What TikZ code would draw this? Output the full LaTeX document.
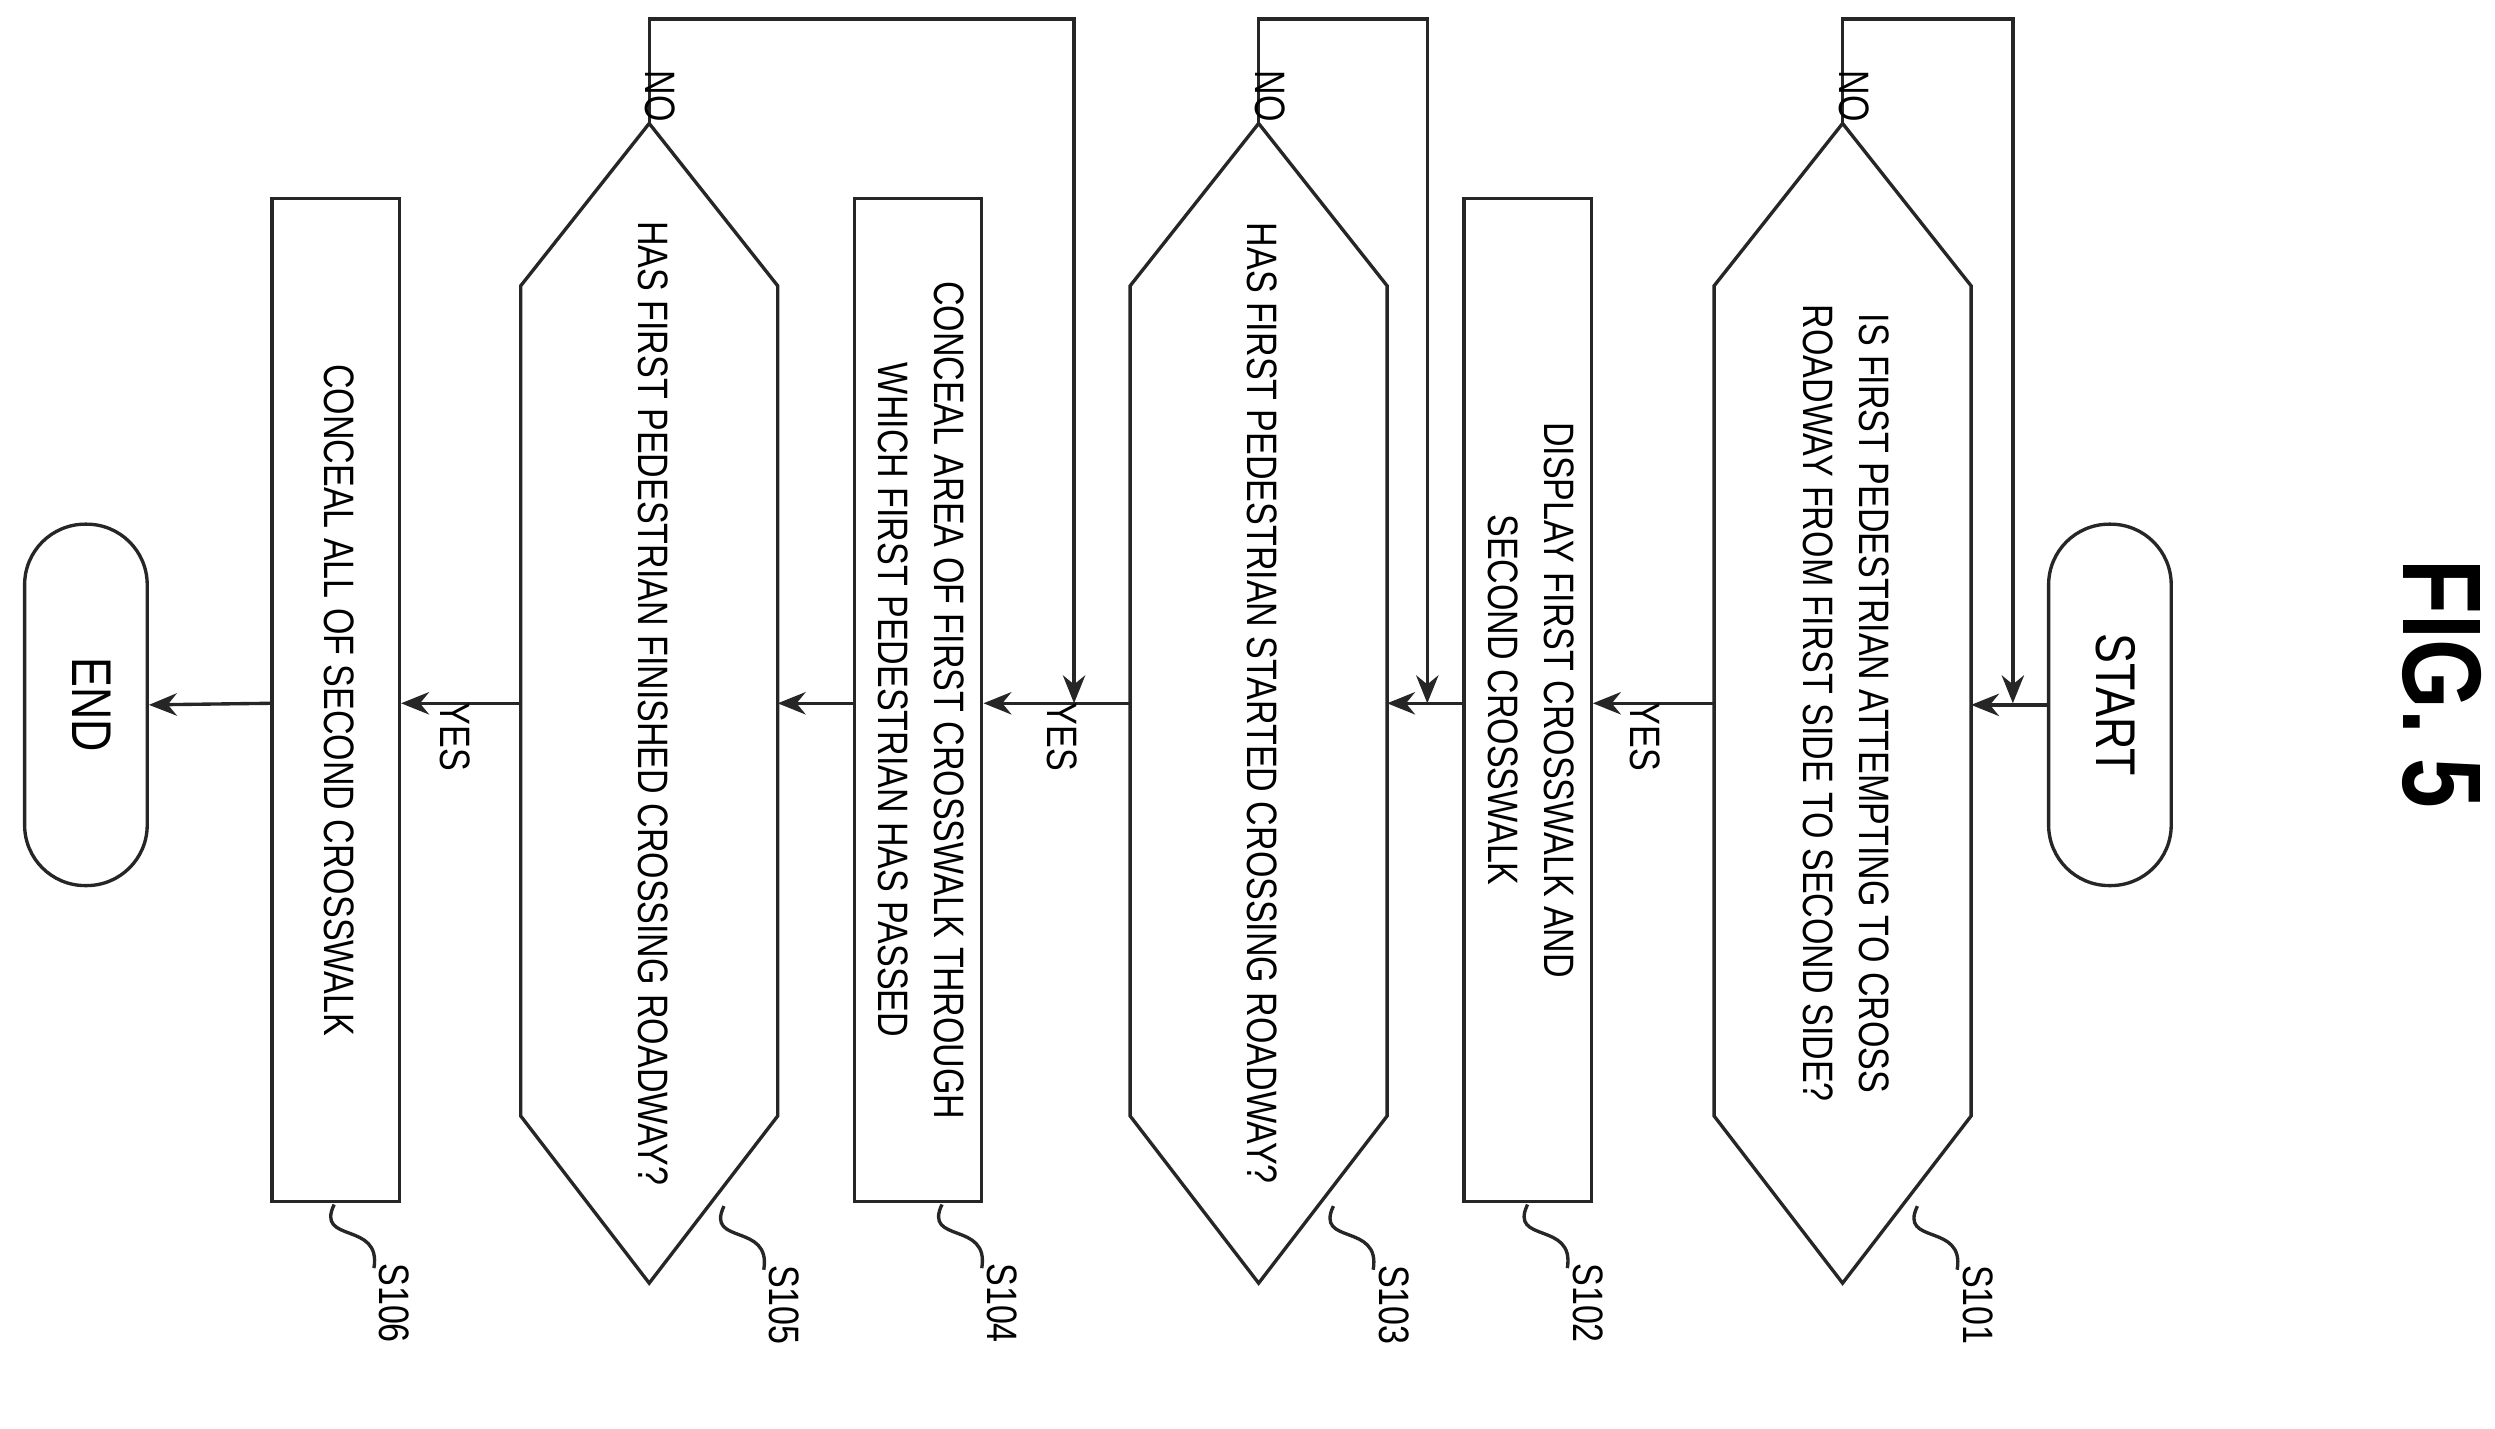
\documentclass[tikz,border=0pt]{standalone}
\usepackage{fontspec}
\setmainfont{Liberation Sans}[FakeStretch=0.8]
\usetikzlibrary{arrows.meta,positioning}
\newcommand{\rtext}[1]{\rotatebox{-90}{\begin{tabular}{@{}c@{}}#1\end{tabular}}}
\newcommand{\hexa}[1]{\draw[line] ([yshift=-1.02cm]#1.north west) -- (#1.north) -- ([yshift=-1.02cm]#1.north east) -- ([yshift=1.05cm]#1.south east) -- (#1.south) -- ([yshift=1.05cm]#1.south west) -- cycle;}

\begin{document}
\begin{tikzpicture}[x=0.01cm,y=-0.01cm,
    line/.style={draw=black!85,line width=0.6pt},
    arr/.style={line,-{Stealth[length=5pt,width=4pt]}},
    term/.style={line,rounded corners=0.38cm,minimum width=0.77cm,minimum height=2.27cm,inner sep=0pt},
    proc/.style={line,minimum width=0.8cm,minimum height=6.3cm,inner sep=0pt},
    cond/.style={minimum width=1.6cm,minimum height=7.27cm,inner sep=0pt},
    lbl/.style={font=\fontsize{7.6}{10}\selectfont},
    tag/.style={font=\fontsize{7.6}{10}\selectfont,rotate=-90}]
  \useasboundingbox (0,0) rectangle (1568,898);
  \node[font=\bfseries\fontsize{20}{20}\selectfont,rotate=-90] (fig) at (1535,430) {FIG. 5};
  % terminals
  \node[term] (start) at (1326,443) {\rtext{START}};
  \node[term] (end) at (54,443) {\rtext{END}};
  % decisions
  \node[cond,lbl] (d1) at (1158,442) {\rtext{IS FIRST PEDESTRIAN ATTEMPTING TO CROSS\\ROADWAY FROM FIRST SIDE TO SECOND SIDE?}};
  \node[cond,lbl] (d3) at (791,442) {\rtext{HAS FIRST PEDESTRIAN STARTED CROSSING ROADWAY?}};
  \node[cond,lbl] (d5) at (408,442) {\rtext{HAS FIRST PEDESTRIAN FINISHED CROSSING ROADWAY?}};
  \hexa{d1}
  \hexa{d3}
  \hexa{d5}
  % processes
  \node[proc,lbl] (p2) at (960,440) {\rtext{DISPLAY FIRST CROSSWALK AND\\SECOND CROSSWALK}};
  \node[proc,lbl] (p4) at (577,440) {\rtext{CONCEAL AREA OF FIRST CROSSWALK THROUGH\\WHICH FIRST PEDESTRIAN HAS PASSED}};
  \node[proc,lbl] (p6) at (211,440) {\rtext{CONCEAL ALL OF SECOND CROSSWALK}};
  % flow
  \draw[arr] (start.west) -- (d1.east |- start.west);
  \draw[arr] (d1.west) -- node[tag,pos=0.28,below=6pt] {YES} (p2.east |- d1.west);
  \draw[arr] (p2.west |- d1.west) -- (d3.east);
  \draw[arr] (d3.west) -- node[tag,pos=0.22,below=6pt] {YES} (p4.east |- d3.west);
  \draw[arr] (p4.west |- d3.west) -- (d5.east);
  \draw[arr] (d5.west) -- node[tag,pos=0.25,below=6pt] {YES} (p6.east |- d5.west);
  \draw[arr] (p6.west |- d5.west) -- (end.east);
  % no loops
  \coordinate (n1) at (1265,12);
  \coordinate (n3) at (897,12);
  \coordinate (n5) at (675,12);
  \draw[arr] (d1.north) |- node[tag,pos=0.35,right=2pt] {NO} (n1) -- (n1 |- d1.east);
  \draw[arr] (d3.north) |- node[tag,pos=0.35,right=2pt] {NO} (n3) -- (n3 |- d3.east);
  \draw[arr] (d5.north) |- node[tag,pos=0.35,right=2pt] {NO} (n5) -- (n5 |- d5.east);
  % step tags
  \foreach \s/\x/\y/\t in {d1/1205/758/S101, p2/960/757/S102, d3/838/758/S103, p4/592/757/S104, d5/455/758/S105, p6/210/757/S106}{
    \draw[line] (\x,\y) .. controls (\x-12,\y+25) and (\x+30,\y+10) .. (\x+25,\y+40);
    \node[tag] at (\x+38,\y+62) {\t};
  }
\end{tikzpicture}
\end{document}
